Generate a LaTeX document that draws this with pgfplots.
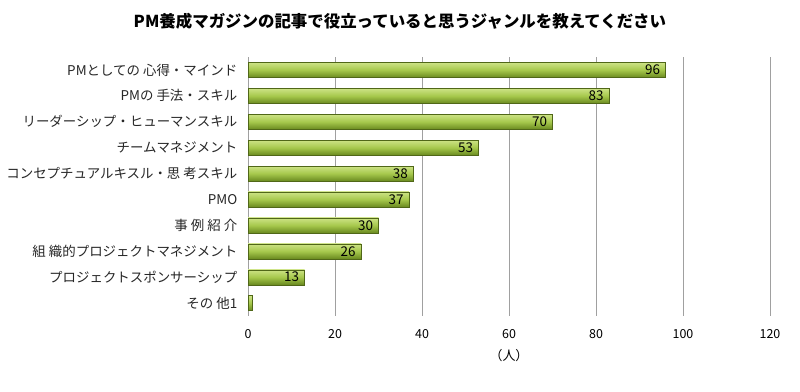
\documentclass[border=0pt]{standalone}
\usepackage{fontspec}
\setmainfont{Noto Sans CJK JP}
\usepackage{pgfplots}
\pgfplotsset{compat=1.18}
\definecolor{gtop}{HTML}{CDE386}
\definecolor{gmid}{HTML}{A6C84C}
\definecolor{gbot}{HTML}{6A8A20}
\definecolor{gridc}{HTML}{A0A0A0}
\pgfplotsset{gbar/.style={draw=gbot!75!black, line width=0.3pt, top color=gtop, bottom color=gbot, middle color=gmid}}
\begin{document}
\begin{tikzpicture}[x=1bp,y=1bp]
\path (0,0) rectangle (800,391);
\begin{axis}[
  at={(248bp,75bp)}, anchor=south west,
  scale only axis, width=522bp, height=259bp,
  xbar, bar width=15bp, bar shift=0pt,
  xmin=0, xmax=120, xtick={0,20,...,120},
  ymin=-0.5, ymax=9.5, y dir=reverse,
  ytick={0,...,9},
  yticklabels={PMとしての 心得・マインド, PMの 手法・スキル, リーダーシップ・ヒューマンスキル, チームマネジメント, コンセプチュアルキスル・思 考スキル, PMO, 事 例 紹 介, 組 織的プロジェクトマネジメント, プロジェクトスポンサーシップ, その 他1},
  xmajorgrids, major grid style={gridc, line width=0.6pt},
  axis line style={draw=none},
  extra x ticks={0}, extra x tick labels={},
  extra x tick style={grid=major},
  tick style={draw=none},
  yticklabel style={font=\fontsize{13.5}{15}\selectfont, color=black!85, xshift=-3bp},
  xticklabel style={font=\fontsize{12.5}{14}\selectfont, yshift=-10bp},
  /pgf/number format/assume math mode=true,
  xlabel={（人）}, xlabel style={font=\fontsize{13}{15}\selectfont, yshift=-4bp},
  title={\bfseries PM養成マガジンの記事で役立っていると思うジャンルを教えてください},
  title style={font=\fontsize{16.5}{18}\selectfont, at={(0.291,1)}, anchor=south, yshift=18bp},
  clip=false,
  nodes near coords, nodes near coords align={anchor=east},
  every node near coord/.style={anchor=east, xshift=-2bp, font=\fontsize{13.5}{15}\selectfont, color=black},
]
\addplot[gbar] coordinates {(96,0)};
\addplot[gbar] coordinates {(83,1)};
\addplot[gbar] coordinates {(70,2)};
\addplot[gbar] coordinates {(53,3)};
\addplot[gbar] coordinates {(38,4)};
\addplot[gbar] coordinates {(37,5)};
\addplot[gbar] coordinates {(30,6)};
\addplot[gbar] coordinates {(26,7)};
\addplot[gbar] coordinates {(13,8)};
\addplot[gbar, nodes near coords=\empty] coordinates {(1,9)};
\end{axis}
\end{tikzpicture}
\end{document}
